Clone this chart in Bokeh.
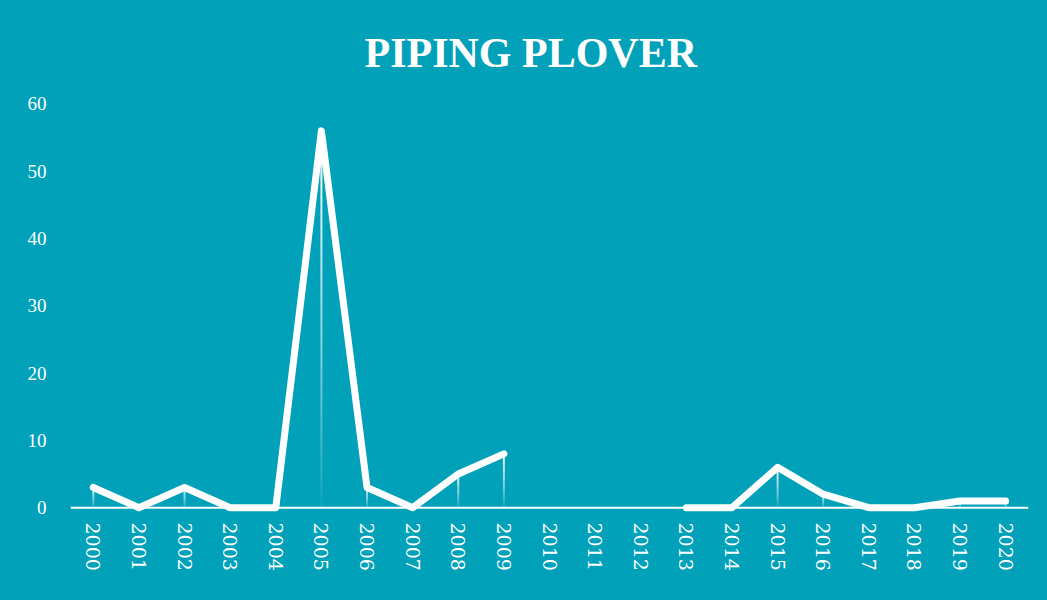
import math
import numpy as np
from bokeh.plotting import figure
from bokeh.models import FactorRange, Range1d, FixedTicker, Span
from bokeh.embed import file_html
from bokeh.resources import INLINE

# ---- data ----
years = ["2000", "2001", "2002", "2003", "2004", "2005", "2006", "2007", "2008", "2009",
         "2010", "2011", "2012", "2013", "2014", "2015", "2016", "2017", "2018", "2019", "2020"]
counts = [3, 0, 3, 0, 0, 56, 3, 0, 5, 8, None, None, None, 0, 0, 6, 2, 0, 0, 1, 1]
y_ticks = [0, 10, 20, 30, 40, 50, 60]
title_text = "PIPING PLOVER"

BG = "#01A1BA"
vals = np.array([np.nan if v is None else float(v) for v in counts])

p = figure(width=1047, height=600,
           x_range=FactorRange(*years, range_padding=0),
           y_range=Range1d(-2.5, 62),
           output_backend="svg", toolbar_location=None,
           background_fill_color=BG, border_fill_color=BG,
           outline_line_color=None,
           min_border_left=70, min_border_right=19,
           min_border_top=90, min_border_bottom=76)

# title
p.title.text = title_text
p.title.text_color = "white"
p.title.text_font = "Liberation Serif"
p.title.text_font_style = "bold"
p.title.text_font_size = "42px"
p.title.align = "left"
p.title.offset = 294
p.title.standoff = 29

# grid / axes
p.xgrid.grid_line_color = None
p.ygrid.grid_line_color = None
for ax in (p.xaxis, p.yaxis):
    ax.axis_line_color = None
    ax.major_tick_line_color = None
    ax.minor_tick_line_color = None
    ax.major_label_text_color = "white"
p.yaxis.ticker = FixedTicker(ticks=y_ticks)
p.yaxis.major_label_text_font = "Liberation Serif"
p.yaxis.major_label_text_font_size = "19px"
p.yaxis.major_label_standoff = 18
p.xaxis.major_label_text_font = "DejaVu Serif"
p.xaxis.major_label_text_font_size = "19px"
p.xaxis.major_label_orientation = -math.pi / 2
p.xaxis.major_label_standoff = -8

# baseline
p.add_layout(Span(location=0, dimension="width", line_color="white", line_width=2))

# halo under the line
p.line(years, vals, line_color=BG, line_width=14, line_cap="round", line_join="round")

# gradient drop lines (white at the point, fading toward the baseline)
N = 30
x0, y0, y1, al = [], [], [], []
for yr, v in zip(years, vals):
    if np.isnan(v) or v <= 0:
        continue
    for k in range(N):
        x0.append(yr)
        y0.append(v * k / N)
        y1.append(v * (k + 1) / N)
        al.append(((k + 1) / N) ** 0.8)
p.segment(x0=x0, y0=y0, x1=x0, y1=y1, line_color="white", line_alpha=al, line_width=2)

# main line
p.line(years, vals, line_color="white", line_width=7, line_cap="round", line_join="round")

html = file_html(p, INLINE)
style = "<style>html, body { background-color: %s !important; }</style>" % BG
html = html.replace("</head>", style + "\n</head>", 1)
open("out.html", "w").write(html)
